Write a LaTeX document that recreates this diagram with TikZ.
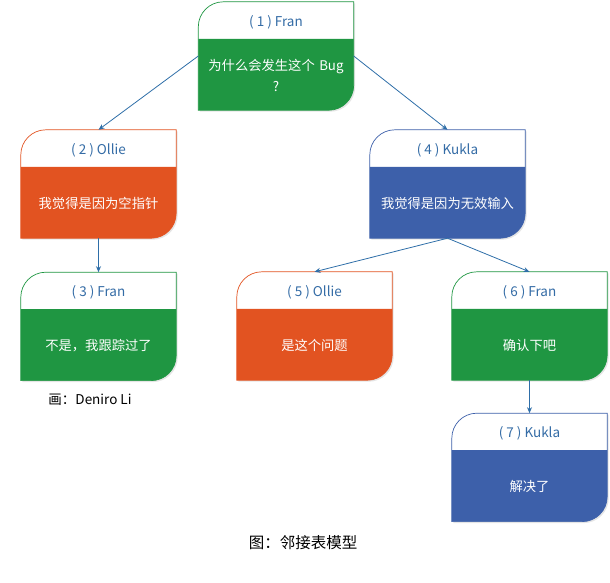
\documentclass[tikz,border=0pt]{standalone}
\usepackage{fontspec}
\setmainfont{Noto Sans CJK SC}
\usetikzlibrary{arrows.meta, positioning, calc}
\definecolor{cgreen}{RGB}{31,150,66}
\definecolor{corange}{RGB}{226,83,33}
\definecolor{cblue}{RGB}{61,96,170}
\definecolor{chead}{RGB}{52,108,166}
\definecolor{clink}{RGB}{46,110,168}
\tikzstyle{card} = [rectangle, minimum width=155pt, minimum height=108pt, inner sep=0pt]
\tikzstyle{head} = [font=\fontsize{13.5}{15}\selectfont, text=chead]
\tikzstyle{body} = [font=\fontsize{13.3}{21}\selectfont, text=white, text width=145pt, align=center]
\tikzstyle{arrow} = [draw=clink, line width=0.8pt, -{Stealth[length=6pt,width=5pt]}]
\tikzstyle{caption} = [font=\fontsize{13.5}{15}\selectfont]

% card outline: #1 node name, #2 colour
\newcommand{\drawcard}[2]{%
  \fill[black!10] ($(#1.north west)+(1.5,-26.5)$) arc[start angle=180,end angle=90,radius=25pt]
    -- ($(#1.north east)+(1.5,-1.5)$) -- ($(#1.south east)+(1.5,23.5)$)
    arc[start angle=0,end angle=-90,radius=25pt] -- ($(#1.south west)+(1.5,-1.5)$) -- cycle;
  \fill[white] ($(#1.north west)+(0,-25)$) arc[start angle=180,end angle=90,radius=25pt]
    -- (#1.north east) -- ($(#1.north east)+(0,-37)$) -- ($(#1.north west)+(0,-37)$) -- cycle;
  \fill[#2] ($(#1.north west)+(0,-37)$) -- ($(#1.north east)+(0,-37)$) -- ($(#1.south east)+(0,25)$)
    arc[start angle=0,end angle=-90,radius=25pt] -- (#1.south west) -- cycle;
  \draw[#2, line width=0.7pt] ($(#1.north west)+(0,-25)$) arc[start angle=180,end angle=90,radius=25pt]
    -- (#1.north east) -- ($(#1.south east)+(0,25)$)
    arc[start angle=0,end angle=-90,radius=25pt] -- (#1.south west) -- cycle;
}

\begin{document}
\begin{tikzpicture}[x=1pt, y=1pt]
\useasboundingbox (0,0) rectangle (610,-582);

\node (n1) [card] at (276,-56) {};
\node (n2) [card] at (98.5,-184) {};
\node (n3) [card, below=34pt of n2] {};
\node (n4) [card] at (447.5,-184) {};
\node (n5) [card] at (314.5,-326) {};
\node (n6) [card] at (529.5,-326) {};
\node (n7) [card, below=33pt of n6] {};

\drawcard{n1}{cgreen}
\drawcard{n2}{corange}
\drawcard{n3}{cgreen}
\drawcard{n4}{cblue}
\drawcard{n5}{corange}
\drawcard{n6}{cgreen}
\drawcard{n7}{cblue}

\node (n1h) [head] at ($(n1.north)+(0,-20.5)$) {( 1 ) Fran};
\node (n1b) [body] at ($(n1.south)+(0,35)$) {为什么会发生这个 Bug\\?};
\node (n2h) [head] at ($(n2.north)+(0,-20.5)$) {( 2 ) Ollie};
\node (n2b) [body] at ($(n2.south)+(0,35)$) {我觉得是因为空指针};
\node (n3h) [head] at ($(n3.north)+(0,-20.5)$) {( 3 ) Fran};
\node (n3b) [body] at ($(n3.south)+(0,35)$) {不是，我跟踪过了};
\node (n4h) [head] at ($(n4.north)+(0,-20.5)$) {( 4 ) Kukla};
\node (n4b) [body] at ($(n4.south)+(0,35)$) {我觉得是因为无效输入};
\node (n5h) [head] at ($(n5.north)+(0,-20.5)$) {( 5 ) Ollie};
\node (n5b) [body] at ($(n5.south)+(0,35)$) {是这个问题};
\node (n6h) [head] at ($(n6.north)+(0,-20.5)$) {( 6 ) Fran};
\node (n6b) [body] at ($(n6.south)+(0,35)$) {确认下吧};
\node (n7h) [head] at ($(n7.north)+(0,-20.5)$) {( 7 ) Kukla};
\node (n7b) [body] at ($(n7.south)+(0,35)$) {解决了};

\draw[arrow] (n1.west) -- (n2.north);
\draw[arrow] (n1.east) -- (n4.north);
\draw[arrow] (n2.south) -- (n3.north);
\draw[arrow] (n4.south) -- (n5.north);
\draw[arrow] (n4.south) -- (n6.north);
\draw[arrow] (n6.south) -- (n7.north);

\node (painter) [caption] at (90,-400) {画：Deniro Li};
\node (figtitle) [caption, font=\fontsize{15.5}{17}\selectfont] at (303,-543) {图：邻接表模型};
\end{tikzpicture}
\end{document}
